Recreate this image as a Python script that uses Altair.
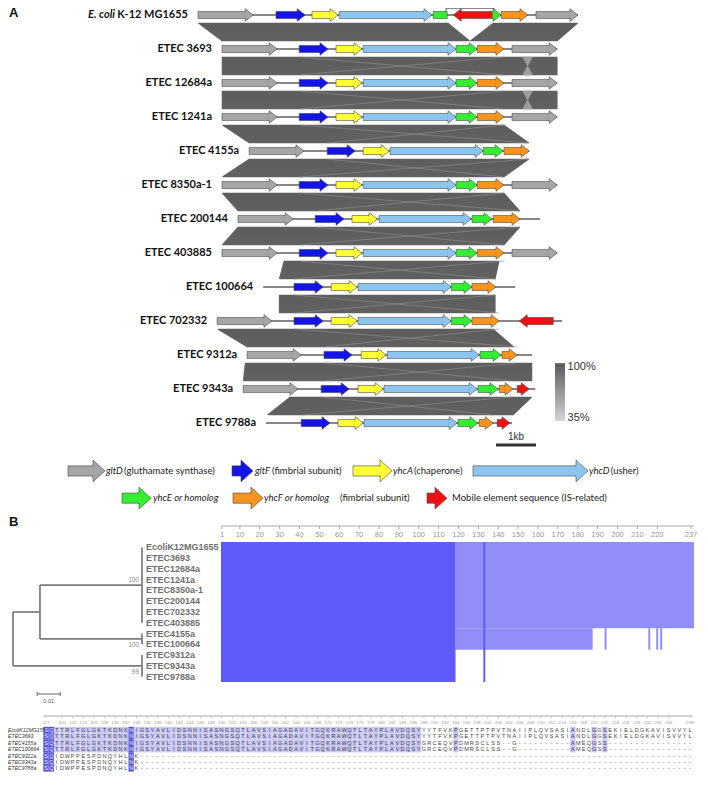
import altair as alt
import pandas as pd

W, H = 690, 766

# ================= Panel A : gene neighbourhoods (positions in kb) =================
strains_A = ["K-12 MG1655", "ETEC 3693", "ETEC 12684a", "ETEC 1241a", "ETEC 4155a",
             "ETEC 8350a-1", "ETEC 200144", "ETEC 403885", "ETEC 100664", "ETEC 702332",
             "ETEC 9312a", "ETEC 9343a", "ETEC 9788a"]
backbone_start = [0.00, 0.60, 0.60, 0.60, 1.28, 0.60, 1.00, 0.60, 1.63, 0.48, 1.23, 1.13, 1.70]
backbone_end = [9.50, 8.98, 8.98, 8.98, 8.28, 8.98, 8.55, 8.98, 7.93, 9.10, 8.35, 8.43, 7.85]

# (gene, start kb, end kb, strand: 1 forward, -1 reverse, 0 truncated)
genes_k12 = [("gltD", 0.00, 1.38, 1), ("gltF", 1.95, 2.68, 1), ("yhcA", 2.85, 3.50, 1),
             ("yhcD", 3.53, 5.85, 1), ("yhcE", 5.88, 6.23, 0), ("IS", 6.38, 7.38, -1),
             ("yhcE", 7.38, 7.58, 1), ("yhcF", 7.58, 8.25, 1), ("gltD", 8.45, 9.50, 1)]
genes_3693 = [("gltD", 0.60, 1.98, 1), ("gltF", 2.53, 3.25, 1), ("yhcA", 3.45, 4.10, 1),
              ("yhcD", 4.13, 6.45, 1), ("yhcE", 6.45, 6.98, 1), ("yhcF", 6.98, 7.65, 1),
              ("gltD", 7.85, 8.98, 1)]
genes_12684a = [("gltD", 0.60, 1.98, 1), ("gltF", 2.53, 3.25, 1), ("yhcA", 3.45, 4.10, 1),
                ("yhcD", 4.13, 6.45, 1), ("yhcE", 6.45, 6.98, 1), ("yhcF", 6.98, 7.65, 1),
                ("gltD", 7.85, 8.98, 1)]
genes_1241a = [("gltD", 0.60, 1.98, 1), ("gltF", 2.53, 3.25, 1), ("yhcA", 3.45, 4.10, 1),
               ("yhcD", 4.13, 6.45, 1), ("yhcE", 6.45, 6.98, 1), ("yhcF", 6.98, 7.65, 1),
               ("gltD", 7.85, 8.98, 1)]
genes_4155a = [("gltD", 1.28, 2.65, 1), ("gltF", 3.23, 3.93, 1), ("yhcA", 4.13, 4.78, 1),
               ("yhcD", 4.80, 7.13, 1), ("yhcE", 7.13, 7.63, 1), ("yhcF", 7.65, 8.28, 1)]
genes_8350a1 = [("gltD", 0.60, 1.98, 1), ("gltF", 2.53, 3.25, 1), ("yhcA", 3.45, 4.10, 1),
                ("yhcD", 4.13, 6.45, 1), ("yhcE", 6.45, 6.98, 1), ("yhcF", 6.98, 7.65, 1),
                ("gltD", 7.85, 8.98, 1)]
genes_200144 = [("gltD", 1.00, 2.38, 1), ("gltF", 2.93, 3.65, 1), ("yhcA", 3.85, 4.48, 1),
                ("yhcD", 4.53, 6.83, 1), ("yhcE", 6.85, 7.35, 1), ("yhcF", 7.38, 8.05, 1)]
genes_403885 = [("gltD", 0.60, 1.98, 1), ("gltF", 2.53, 3.25, 1), ("yhcA", 3.45, 4.10, 1),
                ("yhcD", 4.13, 6.45, 1), ("yhcE", 6.45, 6.98, 1), ("yhcF", 6.98, 7.65, 1),
                ("gltD", 7.85, 8.98, 1)]
genes_100664 = [("gltF", 2.40, 3.13, 1), ("yhcA", 3.33, 3.98, 1), ("yhcD", 4.00, 6.33, 1),
                ("yhcE", 6.33, 6.85, 1), ("yhcF", 6.85, 7.45, 1)]
genes_702332 = [("gltD", 0.48, 1.85, 1), ("gltF", 2.40, 3.13, 1), ("yhcA", 3.33, 3.98, 1),
                ("yhcD", 4.00, 6.33, 1), ("yhcE", 6.33, 6.85, 1), ("yhcF", 6.85, 7.53, 1),
                ("IS", 8.03, 8.88, -1)]
genes_9312a = [("gltD", 1.23, 2.58, 1), ("gltF", 3.15, 3.85, 1), ("yhcA", 4.08, 4.70, 1),
               ("yhcD", 4.73, 7.03, 1), ("yhcE", 7.05, 7.58, 1), ("yhcF", 7.60, 7.98, 1)]
genes_9343a = [("gltD", 1.13, 2.50, 1), ("gltF", 3.08, 3.78, 1), ("yhcA", 4.00, 4.63, 1),
               ("yhcD", 4.65, 6.98, 1), ("yhcE", 7.00, 7.50, 1), ("yhcF", 7.53, 7.88, 1),
               ("IS", 7.98, 8.28, 1)]
genes_9788a = [("gltF", 2.58, 3.30, 1), ("yhcA", 3.50, 4.13, 1), ("yhcD", 4.15, 6.48, 1),
               ("yhcE", 6.50, 7.00, 1), ("yhcF", 7.03, 7.38, 1), ("IS", 7.48, 7.80, 1)]
gene_rows = [genes_k12, genes_3693, genes_12684a, genes_1241a, genes_4155a, genes_8350a1,
             genes_200144, genes_403885, genes_100664, genes_702332, genes_9312a,
             genes_9343a, genes_9788a]

# similarity bands: (upper row, upper left, upper right, lower left, lower right) in kb
bands = [(0, 0.00, 6.25, 0.60, 6.80), (0, 7.38, 9.50, 6.80, 8.98),
         (1, 0.60, 8.98, 0.60, 8.98), (2, 0.60, 8.98, 0.60, 8.98),
         (3, 0.60, 7.65, 1.28, 8.28), (4, 1.28, 8.28, 0.60, 7.65),
         (5, 0.60, 7.65, 1.00, 8.05), (6, 1.00, 8.05, 0.60, 7.65),
         (7, 2.15, 7.53, 2.03, 7.43), (8, 2.03, 7.43, 2.03, 7.43),
         (9, 0.48, 7.38, 1.23, 7.90), (10, 1.18, 8.35, 1.13, 8.35),
         (11, 2.30, 8.35, 1.73, 7.88)]
# low-identity pinch inside a band: (upper row, left kb, right kb, apex kb)
band_pinches = [(1, 8.12, 8.36, 8.24), (2, 8.12, 8.36, 8.24)]

insertion_box = (6.20, 7.40)     # kb, boxed IS insertion in K-12
scale_bar_kb = (7.45, 8.45)      # 1 kb

GENE_COLORS = {"gltD": "#a6a6a6", "gltF": "#1414e6", "yhcA": "#ffff33", "yhcD": "#8cc6f0",
               "yhcE": "#33ee33", "yhcF": "#f7941d", "IS": "#ee1111"}

# legend layout (kb, row units)
legend_arrows = [("gltD", -3.25, -2.325, 13.41), ("gltF", 0.85, 1.375, 13.41),
                 ("yhcA", 3.875, 4.85, 13.41), ("yhcD", 6.875, 9.75, 13.41),
                 ("yhcE", -1.90, -1.175, 14.21), ("yhcF", 0.875, 1.625, 14.21),
                 ("IS", 5.725, 6.225, 14.21)]
legend_texts = [(-2.30, 13.41, "gltD", "italic"), (-1.85, 13.41, "(gluthamate synthase)", "normal"),
                (1.425, 13.41, "gltF", "italic"), (1.85, 13.41, "(fimbrial subunit)", "normal"),
                (4.875, 13.41, "yhcA", "italic"), (5.40, 13.41, "(chaperone)", "normal"),
                (9.775, 13.41, "yhcD", "italic"), (10.32, 13.41, "(usher)", "normal"),
                (-1.125, 14.21, "yhcE or homolog", "italic"),
                (1.65, 14.21, "yhcF or homolog", "italic"), (3.55, 14.21, "(fimbrial subunit)", "normal"),
                (6.35, 14.21, "Mobile element sequence (IS-related)", "normal")]

# arrow geometry (styling): body half-height / head half-height in rows, head length in kb
MAP_BODY, MAP_HEAD, MAP_HL = 0.105, 0.185, 0.2
LEG_BODY, LEG_HEAD, LEG_HL = 0.15, 0.32, 0.3
ROW_PX, KB_PX = 34.0, 40.0
BAND_TOP, BAND_BOT = 0.235, 0.765


def head_path(ratio, half_w, direction):
    s = direction
    xb = -half_w * s
    xe = (-half_w - 0.12) * s
    return (f"M{xe:.3f},{-ratio:.3f}L{xb:.3f},{-ratio:.3f}L{xb:.3f},-1L{half_w * s:.3f},0"
            f"L{xb:.3f},1L{xb:.3f},{ratio:.3f}L{xe:.3f},{ratio:.3f}")


body_recs, head_recs = [], []


def add_arrow(gene, s, e, strand, r, body, head, hl, kind):
    if strand > 0:
        x0, x1 = s, max(s, e - hl)
    elif strand < 0:
        x0, x1 = min(e, s + hl), e
    else:
        x0, x1 = s, e
    if x1 > x0:
        body_recs.append(dict(x0=x0, x1=x1, y0=r - body, y1=r + body, color=GENE_COLORS[gene]))
    if strand != 0:
        head_recs.append(dict(x=e if strand > 0 else s, y=r, color=GENE_COLORS[gene],
                              kind=kind, dirn=strand))


for r, glist in enumerate(gene_rows):
    for g, s, e, st in glist:
        add_arrow(g, s, e, st, r, MAP_BODY, MAP_HEAD, MAP_HL, "map")
for g, s, e, r in legend_arrows:
    add_arrow(g, s, e, 1, r, LEG_BODY, LEG_HEAD, LEG_HL, "leg")
body_df = pd.DataFrame(body_recs)
head_df = pd.DataFrame(head_recs)

# bands drawn as 1-px horizontal strips of trapezoids
strip_recs = []


def add_strips(r, f0, f1, a_t, b_t, a_b, b_b, color, n):
    ya = r + BAND_TOP + (BAND_BOT - BAND_TOP) * f0
    yb = r + BAND_TOP + (BAND_BOT - BAND_TOP) * f1
    for i in range(n):
        t0, t1 = i / n, (i + 1) / n
        tm = (t0 + t1) / 2
        strip_recs.append(dict(x0=a_t + (a_b - a_t) * tm, x1=b_t + (b_b - b_t) * tm,
                               y0=ya + (yb - ya) * t0, y1=ya + (yb - ya) * t1, c=color))


for r, a1, b1, a2, b2 in bands:
    add_strips(r, 0, 1, a1, b1, a2, b2, "#606060", 18)
for r, a, b, m in band_pinches:
    add_strips(r, 0, 0.5, a, b, m, m, "#9e9e9e", 9)
    add_strips(r, 0.5, 1, m, m, a, b, "#9e9e9e", 9)
strips_df = pd.DataFrame(strip_recs)

# faint crossing lines between the operon ends (gltF start <-> yhcF end) in each band
cross = []
for r, a1, b1, a2, b2 in bands:
    if r == 0:
        continue
    up = {g: (s, e) for g, s, e, _ in gene_rows[r]}
    lo = {g: (s, e) for g, s, e, _ in gene_rows[r + 1]}
    cross.append(dict(x=up["gltF"][0], y=r + BAND_TOP, x2=lo["yhcF"][1], y2=r + BAND_BOT))
    cross.append(dict(x=lo["gltF"][0], y=r + BAND_BOT, x2=up["yhcF"][1], y2=r + BAND_TOP))
cross_df = pd.DataFrame(cross)

backbone_df = pd.DataFrame(dict(row=list(range(len(strains_A))), s=backbone_start,
                                e=backbone_end, label=strains_A))

xA = alt.Scale(domain=[0, 10], range=[190, 590], nice=False, zero=False)
yA = alt.Scale(domain=[0, 12], range=[7, 7 + 12 * ROW_PX], nice=False, zero=False)

bandsL = alt.Chart(strips_df).mark_rect(strokeWidth=0.5).encode(
    x=alt.X("x0:Q", scale=xA, axis=None), x2="x1:Q",
    y=alt.Y("y0:Q", scale=yA, axis=None), y2="y1:Q",
    color=alt.Color("c:N", scale=None), stroke=alt.Stroke("c:N", scale=None))

crossL = alt.Chart(cross_df).mark_rule(color="#8e8e8e", strokeWidth=0.8, opacity=0.8).encode(
    x=alt.X("x:Q", scale=xA, axis=None), x2="x2:Q",
    y=alt.Y("y:Q", scale=yA, axis=None), y2="y2:Q")

lineL = alt.Chart(backbone_df).mark_rule(color="#111111", strokeWidth=1.2).encode(
    x=alt.X("s:Q", scale=xA, axis=None), x2="e:Q", y=alt.Y("row:Q", scale=yA, axis=None))

bodyL = alt.Chart(body_df).mark_rect(stroke="#4a4a4a", strokeWidth=0.6).encode(
    x=alt.X("x0:Q", scale=xA, axis=None), x2="x1:Q",
    y=alt.Y("y0:Q", scale=yA, axis=None), y2="y1:Q",
    color=alt.Color("color:N", scale=None))


def head_layer(kind, dirn, body, head, hl):
    hh = head * ROW_PX * 2          # head height in px
    half_w = hl * KB_PX / hh        # half width in symbol units
    sub = head_df[(head_df["kind"] == kind) & (head_df["dirn"] == dirn)]
    return alt.Chart(sub).mark_point(
        shape=head_path(body / head, half_w, dirn), size=hh * hh, filled=True, opacity=1,
        stroke="#4a4a4a", strokeWidth=0.6, xOffset=-dirn * hl * KB_PX / 2).encode(
        x=alt.X("x:Q", scale=xA, axis=None), y=alt.Y("y:Q", scale=yA, axis=None),
        color=alt.Color("color:N", scale=None))


headF = head_layer("map", 1, MAP_BODY, MAP_HEAD, MAP_HL)
headR = head_layer("map", -1, MAP_BODY, MAP_HEAD, MAP_HL)
headLeg = head_layer("leg", 1, LEG_BODY, LEG_HEAD, LEG_HL)

labelL = alt.Chart(backbone_df).mark_text(align="right", baseline="middle", dx=-10,
                                          font="Lato", fontSize=11, fontWeight="bold",
                                          color="#111111").encode(
    x=alt.X("s:Q", scale=xA, axis=None), y=alt.Y("row:Q", scale=yA, axis=None), text="label:N")

ecoli_df = pd.DataFrame(dict(s=[backbone_start[0]], row=[0], t=["E. coli"]))
ecoliL = alt.Chart(ecoli_df).mark_text(align="right", baseline="middle", dx=-83, font="Lato",
                                       fontSize=11, fontWeight="bold", fontStyle="italic",
                                       color="#111111").encode(
    x=alt.X("s:Q", scale=xA, axis=None), y=alt.Y("row:Q", scale=yA, axis=None), text="t:N")

box_df = pd.DataFrame(dict(x=[insertion_box[0], insertion_box[0], insertion_box[1]],
                           x2=[insertion_box[1], insertion_box[0], insertion_box[1]],
                           y=[-0.2, -0.2, -0.2], y2=[-0.2, -0.1, 0.0]))
boxL = alt.Chart(box_df).mark_rule(color="#555555", strokeWidth=1).encode(
    x=alt.X("x:Q", scale=xA, axis=None), x2="x2:Q", y=alt.Y("y:Q", scale=yA, axis=None), y2="y2:Q")

sb_df = pd.DataFrame(dict(s=[scale_bar_kb[0]], e=[scale_bar_kb[1]], y=[12.65],
                          m=[(scale_bar_kb[0] + scale_bar_kb[1]) / 2], ty=[12.41], t=["1kb"]))
sbL = alt.Chart(sb_df).mark_rule(color="#333333", strokeWidth=3).encode(
    x=alt.X("s:Q", scale=xA, axis=None), x2="e:Q", y=alt.Y("y:Q", scale=yA, axis=None))
sbT = alt.Chart(sb_df).mark_text(font="Liberation Sans", fontSize=10, color="#333333").encode(
    x=alt.X("m:Q", scale=xA, axis=None), y=alt.Y("ty:Q", scale=yA, axis=None), text="t:N")

grad = alt.Gradient(gradient="linear",
                    stops=[alt.GradientStop(color="#5a5a5a", offset=0),
                           alt.GradientStop(color="#d4d4d4", offset=1)],
                    x1=0, x2=0, y1=0, y2=1)
cb_df = pd.DataFrame(dict(x0=[8.925], x1=[9.175], y0=[10.24], y1=[11.94]))
cbL = alt.Chart(cb_df).mark_rect(color=grad).encode(
    x=alt.X("x0:Q", scale=xA, axis=None), x2="x1:Q", y=alt.Y("y0:Q", scale=yA, axis=None), y2="y1:Q")
cbt_df = pd.DataFrame(dict(x=[9.24, 9.24], y=[10.36, 11.84], t=["100%", "35%"]))
cbT = alt.Chart(cbt_df).mark_text(align="left", font="Liberation Sans", fontSize=11,
                                  color="#333333").encode(
    x=alt.X("x:Q", scale=xA, axis=None), y=alt.Y("y:Q", scale=yA, axis=None), text="t:N")

lt_df = pd.DataFrame(legend_texts, columns=["x", "y", "t", "style"])
legIt = alt.Chart(lt_df[lt_df["style"] == "italic"]).mark_text(
    align="left", baseline="middle", font="Lato", fontSize=9.5, fontStyle="italic",
    color="#222222").encode(x=alt.X("x:Q", scale=xA, axis=None),
                            y=alt.Y("y:Q", scale=yA, axis=None), text="t:N")
legNo = alt.Chart(lt_df[lt_df["style"] == "normal"]).mark_text(
    align="left", baseline="middle", font="Lato", fontSize=9.5,
    color="#222222").encode(x=alt.X("x:Q", scale=xA, axis=None),
                            y=alt.Y("y:Q", scale=yA, axis=None), text="t:N")

panelA = alt.layer(bandsL, crossL, lineL, boxL, bodyL, headF, headR, headLeg, labelL, ecoliL,
                   sbL, sbT, cbL, cbT, legIt, legNo)

# ================= Panel B : tree + alignment overview =================
leaves_B = ["EcoliK12MG1655", "ETEC3693", "ETEC12684a", "ETEC1241a", "ETEC8350a-1",
            "ETEC200144", "ETEC702332", "ETEC403885", "ETEC4155a", "ETEC100664",
            "ETEC9312a", "ETEC9343a", "ETEC9788a"]
# clades: (first leaf row, last leaf row, depth from root, bootstrap)
clade_rows = [(0, 7, 0.056, "100"), (8, 9, 0.056, "100"), (10, 12, 0.056, "99")]
node_a_depth = 0.0117      # internal node joining clades 1 and 2
tree_scale = 0.01

c_mid = [(a + b) / 2 for a, b, _, _ in clade_rows]
na_y = (c_mid[0] + c_mid[1]) / 2
edges = []
for (a, b, d, _), m in zip(clade_rows, c_mid):
    edges.append(dict(x=d, x2=d, y=a, y2=b))
edges += [dict(x=node_a_depth, x2=clade_rows[0][2], y=c_mid[0], y2=c_mid[0]),
          dict(x=node_a_depth, x2=clade_rows[1][2], y=c_mid[1], y2=c_mid[1]),
          dict(x=node_a_depth, x2=node_a_depth, y=c_mid[0], y2=c_mid[1]),
          dict(x=0, x2=node_a_depth, y=na_y, y2=na_y),
          dict(x=0, x2=clade_rows[2][2], y=c_mid[2], y2=c_mid[2]),
          dict(x=0, x2=0, y=na_y, y2=c_mid[2])]
edges_df = pd.DataFrame(edges)

xT = alt.Scale(domain=[0, 0.056], range=[5, 134], nice=False, zero=False)
yB = alt.Scale(domain=[-0.5, 12.5], range=[534, 674], nice=False, zero=False)

treeL = alt.Chart(edges_df).mark_rule(color="#7a7a7a", strokeWidth=1.7).encode(
    x=alt.X("x:Q", scale=xT, axis=None), x2="x2:Q", y=alt.Y("y:Q", scale=yB, axis=None), y2="y2:Q")
leaf_df = pd.DataFrame(dict(name=leaves_B, row=list(range(len(leaves_B))),
                            d=[clade_rows[0][2]] * len(leaves_B)))
leafT = alt.Chart(leaf_df).mark_text(align="left", baseline="middle", dx=4, font="Liberation Sans",
                                     fontSize=9, fontWeight="bold", color="#6e6e6e").encode(
    x=alt.X("d:Q", scale=xT, axis=None), y=alt.Y("row:Q", scale=yB, axis=None), text="name:N")
boot_offsets = [-0.5, 0.6, 0.6]
boot_df = pd.DataFrame(dict(d=[c[2] for c in clade_rows],
                            y=[m + o for m, o in zip(c_mid, boot_offsets)],
                            t=[c[3] for c in clade_rows]))
bootT = alt.Chart(boot_df).mark_text(align="right", baseline="middle", dx=-3, font="Liberation Sans",
                                     fontSize=6.5, color="#888888").encode(
    x=alt.X("d:Q", scale=xT, axis=None), y=alt.Y("y:Q", scale=yB, axis=None), text="t:N")
tsb_df = pd.DataFrame(dict(x=[0.0105], x2=[0.0105 + tree_scale], m=[0.0105 + tree_scale / 2],
                           t=[str(tree_scale)]))
tsbL = alt.Chart(tsb_df).mark_rule(color="#666666", strokeWidth=1).encode(
    x=alt.X("x:Q", scale=xT, axis=None), x2="x2:Q", y=alt.value(686))
tsbE = alt.Chart(pd.DataFrame(dict(x=[0.0105, 0.0105 + tree_scale]))).mark_rule(
    color="#666666", strokeWidth=1).encode(x=alt.X("x:Q", scale=xT, axis=None),
                                           y=alt.value(684), y2=alt.value(688))
tsbT = alt.Chart(tsb_df).mark_text(font="Liberation Sans", fontSize=5.5, color="#555555").encode(
    x=alt.X("m:Q", scale=xT, axis=None), y=alt.value(693), text="t:N")

panelTree = alt.layer(treeL, leafT, bootT, tsbL, tsbE, tsbT)

# overview of the alignment: conserved in all (dark) / partially conserved (light)
dark_all_cols = [(1, 118), (133, 133)]
light_rows_0_7 = [(119, 238)]
light_rows_8_9 = [(119, 187), (194, 194), (216, 216), (220, 220), (222, 222)]
ruler_ticks_B = [1, 10, 20, 30, 40, 50, 60, 70, 80, 90, 100, 110, 120, 130, 140, 150,
                 160, 170, 180, 190, 200, 210, 220, 237]

seg = []
for a, b in light_rows_0_7:
    seg.append(dict(x=a - 0.5, x2=b + 0.5, y=-0.5, y2=7.5, c="#918ef9"))
for a, b in light_rows_8_9:
    seg.append(dict(x=a - 0.5, x2=b + 0.5, y=7.5, y2=9.5, c="#918ef9"))
for a, b in dark_all_cols:
    seg.append(dict(x=a - 0.5, x2=b + 0.5, y=-0.5, y2=12.5, c="#5f5bf8"))
seg_df = pd.DataFrame(seg)
xO = alt.Scale(domain=[0.5, 238.5], range=[213, 686], nice=False, zero=False)
ovR = alt.Chart(seg_df).mark_rect().encode(
    x=alt.X("x:Q", scale=xO, axis=None), x2="x2:Q", y=alt.Y("y:Q", scale=yB, axis=None), y2="y2:Q",
    color=alt.Color("c:N", scale=None))
rulerL = alt.Chart(pd.DataFrame(dict(x=[0.5], x2=[238.5]))).mark_rule(
    color="#aaaaaa", strokeWidth=1).encode(x=alt.X("x:Q", scale=xO, axis=None), x2="x2:Q",
                                          y=alt.value(518))
rt_df = pd.DataFrame(dict(p=ruler_ticks_B, t=[str(v) for v in ruler_ticks_B]))
rulerTk = alt.Chart(rt_df).mark_rule(color="#aaaaaa", strokeWidth=1).encode(
    x=alt.X("p:Q", scale=xO, axis=None), y=alt.value(518), y2=alt.value(521))
rulerTx = alt.Chart(rt_df).mark_text(font="Liberation Sans", fontSize=7.5, color="#999999",
                                     baseline="middle").encode(
    x=alt.X("p:Q", scale=xO, axis=None), y=alt.value(527), text="t:N")

panelOver = alt.layer(ovR, rulerL, rulerTk, rulerTx)

# ================= Bottom : residue alignment 117-238 =================
aln_names = ["EcoliK12MG155", "ETEC3693", "ETEC4155a", "ETEC100664", "ETEC9312a",
             "ETEC9343a", "ETEC9788a"]
seq_k12 = ("SQTTRLFGLGKTKDNKN" "IGSYAVLIDSNNISASNGSQTLAVSIAGADAVITGQKRAWQTLTAYPLAVDQSY"
           "YYTFVKP" "GETTPTPVTNAIIPLQVSASI" "ANDLGGSEKIELDGKAVISVVYL")
seq_3693 = ("SQTTRLFGLGKTKDNKN" "IGSYAVLIDSNNISASNGSQTLAVSIAGADAVITGQKRAWQTLTAYPLAVDQSY"
            "YYTFVKP" "GETTPTPVTNAIIPLQVSASI" "ANDLGGSEKIELDGKAVISVVYL")
seq_4155a = ("SQTTRLFGLGKTKDNKN" "IGSYAVLIDSNNISASNGSQTLAVSIAGADAVITGQKRAWQTLTAYPLAVDQSY"
             "GRCEQVP" "DMRSCLSS--G----------" "AMEQGSS----------------")
seq_100664 = ("SQTTRLFGLGKTKDNKN" "IGSYAVLIDSNNISASNGSQTLAVSIAGADAVITGQKRAWQTLTAYPLAVDQSY"
              "GRCEQVP" "DMRSCLSS--G----------" "AMEQGSS----------------")
seq_9312a = "SQIDWPPESPDNQYHLNK" + "-" * 104
seq_9343a = "SQIDWPPESPDNQYHLNK" + "-" * 104
seq_9788a = "SQIDWPPESPDNQYHLNK" + "-" * 104
aln_seqs = [seq_k12, seq_3693, seq_4155a, seq_100664, seq_9312a, seq_9343a, seq_9788a]
aln_first = 117
aln_ticks = [117] + list(range(120, 236, 2)) + [238]

cells = []
n = len(aln_seqs)
for j in range(len(aln_seqs[0])):
    col = [s[j] for s in aln_seqs]
    res = [c for c in col if c != "-"]
    best, cnt = None, 0
    for c in sorted(set(res)):
        if res.count(c) > cnt:
            best, cnt = c, res.count(c)
    for i, c in enumerate(col):
        hl = ""
        if c == best and cnt == n:
            hl = "#5552d8"
        elif c == best and cnt >= 4:
            hl = "#c9c7f6"
        cells.append(dict(p=aln_first + j, row=i, ch=c, hl=hl,
                          tc="#f4f4ff" if hl == "#5552d8" else "#444444"))
cells_df = pd.DataFrame(cells)
xC = alt.Scale(domain=[117, 238], range=[38, 682], nice=False, zero=False)
yC = alt.Scale(domain=[0, 6], range=[722, 760.4], nice=False, zero=False)
hl_df = cells_df[cells_df["hl"] != ""].copy()
hl_df["x"] = hl_df["p"] - 0.5
hl_df["x2"] = hl_df["p"] + 0.5
hl_df["y"] = hl_df["row"] - 0.5
hl_df["y2"] = hl_df["row"] + 0.5
hlR = alt.Chart(hl_df).mark_rect().encode(
    x=alt.X("x:Q", scale=xC, axis=None), x2="x2:Q", y=alt.Y("y:Q", scale=yC, axis=None), y2="y2:Q",
    color=alt.Color("hl:N", scale=None))
chT = alt.Chart(cells_df).mark_text(font="Liberation Sans", fontSize=5.6, baseline="middle").encode(
    x=alt.X("p:Q", scale=xC, axis=None), y=alt.Y("row:Q", scale=yC, axis=None), text="ch:N",
    color=alt.Color("tc:N", scale=None))
nm_df = pd.DataFrame(dict(name=aln_names, row=list(range(len(aln_names)))))
nmT = alt.Chart(nm_df).mark_text(align="left", baseline="middle", font="Liberation Sans",
                                 fontSize=5.2, fontStyle="italic", color="#333333").encode(
    x=alt.value(0), y=alt.Y("row:Q", scale=yC, axis=None), text="name:N")
at_df = pd.DataFrame(dict(p=aln_ticks, t=[str(v) for v in aln_ticks]))
cRule = alt.Chart(pd.DataFrame(dict(x=[116.5], x2=[238.5]))).mark_rule(
    color="#aaaaaa", strokeWidth=1).encode(x=alt.X("x:Q", scale=xC, axis=None), x2="x2:Q",
                                          y=alt.value(708))
cTk = alt.Chart(at_df).mark_rule(color="#bbbbbb", strokeWidth=0.8).encode(
    x=alt.X("p:Q", scale=xC, axis=None), y=alt.value(708), y2=alt.value(710.5))
cTx = alt.Chart(at_df).mark_text(font="Liberation Sans", fontSize=4.4, color="#999999",
                                 baseline="middle").encode(
    x=alt.X("p:Q", scale=xC, axis=None), y=alt.value(715), text="t:N")

panelC = alt.layer(hlR, chT, nmT, cRule, cTk, cTx)

# ================= panel letters =================
letters = alt.Chart(pd.DataFrame(dict(t=["A", "B"], x=[1, 1], y=[5, 514]))).mark_text(
    align="left", baseline="middle", font="Liberation Sans", fontSize=13, fontWeight="bold",
    color="#111111").encode(x=alt.X("x:Q", scale=None), y=alt.Y("y:Q", scale=None), text="t:N")

chart = alt.layer(panelA, panelTree, panelOver, panelC, letters).resolve_scale(
    x="independent", y="independent").properties(
    width=W, height=H, padding=0, autosize=alt.AutoSizeParams(type="none")
).configure_view(stroke=None)

chart.save("out.html", embed_options={"renderer": "svg", "actions": False})
